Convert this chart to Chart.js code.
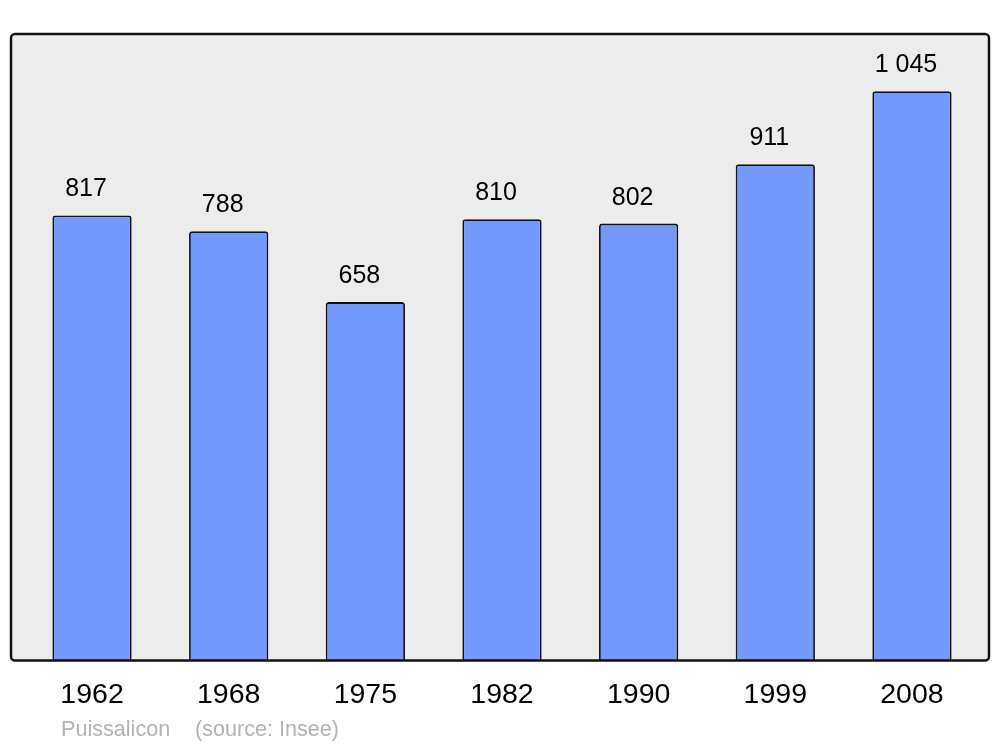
<!DOCTYPE html>
<html>
<head>
<meta charset="utf-8">
<script src="https://cdn.jsdelivr.net/npm/chart.js@4"></script>
<style>
html,body{margin:0;padding:0;background:#fff;}
#wrap{width:1000px;height:747px;position:relative;}
</style>
</head>
<body>
<div id="wrap"><canvas id="c" width="1000" height="747"></canvas></div>
<script>
const categories = ["1962","1968","1975","1982","1990","1999","2008"];
const population = [817, 788, 658, 810, 802, 911, 1045];
const commune = "Puissalicon";
const source = "(source: Insee)";

function fmt(v){ return String(v).replace(/\B(?=(\d{3})+(?!\d))/g, "\u00a0"); }

const framePlugin = {
  id: 'frame',
  beforeDatasetsDraw(chart){
    const ctx = chart.ctx;
    const a = chart.chartArea;
    const x0 = 11, x1 = 989, y0 = 34, y1 = a.bottom;
    ctx.save();
    ctx.beginPath();
    ctx.roundRect(x0, y0, x1 - x0, y1 - y0, 4);
    ctx.fillStyle = '#ececec';
    ctx.fill();
    ctx.restore();
  },
  afterDatasetsDraw(chart){
    const ctx = chart.ctx;
    const a = chart.chartArea;
    const x0 = 11, x1 = 989, y0 = 34, y1 = a.bottom;
    ctx.save();
    ctx.beginPath();
    ctx.roundRect(x0, y0, x1 - x0, y1 - y0, 4);
    ctx.lineWidth = 2.5;
    ctx.strokeStyle = '#111';
    ctx.stroke();
    // value labels
    const meta = chart.getDatasetMeta(0);
    ctx.fillStyle = '#000';
    ctx.font = '25px "Liberation Sans", Arial, sans-serif';
    ctx.textAlign = 'center';
    ctx.textBaseline = 'middle';
    meta.data.forEach((bar, i) => {
      ctx.fillText(fmt(population[i]), bar.x - 6, bar.y - 26);
    });
    // footer
    ctx.fillStyle = '#b3b3b3';
    ctx.font = '21.6px "Liberation Sans", Arial, sans-serif';
    ctx.textAlign = 'left';
    ctx.fillText(commune, 61, 730);
    ctx.fillText(source, 195, 730);
    ctx.restore();
  }
};

new Chart(document.getElementById('c'), {
  type: 'bar',
  data: {
    labels: categories,
    datasets: [{
      data: population,
      backgroundColor: '#7399ff',
      borderColor: '#111',
      borderWidth: 1.8,
      borderSkipped: 'bottom',
      borderRadius: {topLeft: 3, topRight: 3, bottomLeft: 0, bottomRight: 0},
      barPercentage: 0.58,
      categoryPercentage: 1
    }]
  },
  options: {
    responsive: false,
    animation: false,
    devicePixelRatio: 1,
    layout: { padding: { left: 23.7, right: 19.7, top: 34, bottom: 16.4 } },
    plugins: { legend: { display: false }, tooltip: { enabled: false } },
    scales: {
      x: {
        grid: { display: false, drawTicks: false },
        border: { display: false },
        ticks: {
          color: '#000',
          padding: 17.9,
          font: { family: '"Liberation Sans", Arial, sans-serif', size: 28.5 },
          maxRotation: 0
        }
      },
      y: {
        display: false,
        min: 0,
        max: 1150
      }
    }
  },
  plugins: [framePlugin]
});
</script>
</body>
</html>
